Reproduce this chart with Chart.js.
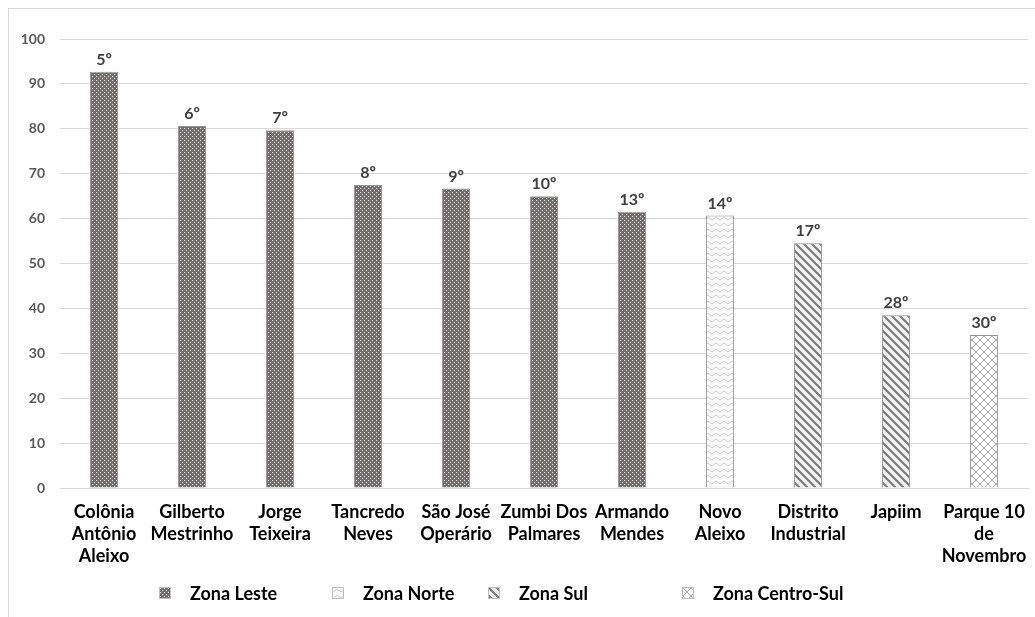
<!DOCTYPE html>
<html>
<head>
<meta charset="utf-8">
<script src="https://cdn.jsdelivr.net/npm/chart.js@4.4.1/dist/chart.umd.min.js"></script>
<style>
  body { margin: 0; background: #fff; }
  #wrap { position: relative; width: 1035px; height: 617px; overflow: hidden; }
  #frame { position: absolute; left: 8px; top: 8px; width: 1040px; height: 620px; border: 1px solid #d9d9d9; }
  #c { position: absolute; left: 0; top: 0; }
  #legenda { position: absolute; left: 0; top: 582px; width: 1035px; height: 22px;
             font: bold 18px Lato, 'Liberation Sans', sans-serif; color: #000; }
  .item { position: absolute; top: 0; display: flex; align-items: center; height: 22px; white-space: nowrap; }
  .item canvas { border: 1px solid #bfbfbf; margin-right: 19px; }
</style>
</head>
<body>
<div id="wrap">
  <div id="frame"></div>
  <canvas id="c" width="1035" height="617"></canvas>
  <div id="legenda"></div>
</div>
<script>
const bairros = [
  ["Colônia", "Antônio", "Aleixo"],
  ["Gilberto", "Mestrinho"],
  ["Jorge", "Teixeira"],
  ["Tancredo", "Neves"],
  ["São José", "Operário"],
  ["Zumbi Dos", "Palmares"],
  ["Armando", "Mendes"],
  ["Novo", "Aleixo"],
  ["Distrito", "Industrial"],
  ["Japiim"],
  ["Parque 10", "de", "Novembro"]
];
const valores = [92.7, 80.6, 79.7, 67.5, 66.7, 65.0, 61.5, 60.7, 54.5, 38.5, 34.1];
const posicoes = ["5º", "6º", "7º", "8º", "9º", "10º", "13º", "14º", "17º", "28º", "30º"];
const zonaDoBairro = ["Leste", "Leste", "Leste", "Leste", "Leste", "Leste", "Leste", "Norte", "Sul", "Sul", "Centro-Sul"];
const zonas = ["Leste", "Norte", "Sul", "Centro-Sul"];

// small pattern tiles, one per zone
function makePattern(zona, ctxAlvo) {
  const t = document.createElement("canvas");
  const ctx = t.getContext("2d");
  if (zona === "Leste") {
    t.width = 4; t.height = 4;
    ctx.fillStyle = "#757070";
    ctx.fillRect(0, 0, 4, 4);
    ctx.fillStyle = "#e6e6e6";
    ctx.fillRect(0, 0, 1, 1);
    ctx.fillRect(2, 2, 1, 1);
  } else if (zona === "Norte") {
    t.width = 8; t.height = 6;
    ctx.fillStyle = "#fafafa";
    ctx.fillRect(0, 0, 8, 6);
    ctx.strokeStyle = "#cfcfcf";
    ctx.lineWidth = 1;
    ctx.beginPath();
    ctx.moveTo(0, 4); ctx.lineTo(4, 1); ctx.lineTo(8, 4);
    ctx.stroke();
  } else if (zona === "Sul") {
    t.width = 8; t.height = 8;
    ctx.fillStyle = "#f2f2f2";
    ctx.fillRect(0, 0, 8, 8);
    ctx.strokeStyle = "#7a7a7a";
    ctx.lineWidth = 2.2;
    ctx.beginPath();
    ctx.moveTo(-2, -2); ctx.lineTo(10, 10);
    ctx.moveTo(-2, 6); ctx.lineTo(2, 10);
    ctx.moveTo(6, -2); ctx.lineTo(10, 2);
    ctx.stroke();
  } else {
    t.width = 8; t.height = 8;
    ctx.fillStyle = "#ffffff";
    ctx.fillRect(0, 0, 8, 8);
    ctx.strokeStyle = "#a6a6a6";
    ctx.lineWidth = 1;
    ctx.beginPath();
    ctx.moveTo(0, 0); ctx.lineTo(8, 8);
    ctx.moveTo(8, 0); ctx.lineTo(0, 8);
    ctx.stroke();
  }
  return ctxAlvo.createPattern(t, "repeat");
}
const mainCtx = document.getElementById("c").getContext("2d");
const padroes = {};
zonas.forEach(z => padroes[z] = makePattern(z, mainCtx));

// legend (html, so the spacing can follow the original)
const legendaX = [159, 332, 488, 682];
const legenda = document.getElementById("legenda");
zonas.forEach((z, i) => {
  const item = document.createElement("div");
  item.className = "item";
  item.style.left = legendaX[i] + "px";
  const sw = document.createElement("canvas");
  sw.width = 10; sw.height = 10;
  const sctx = sw.getContext("2d");
  sctx.fillStyle = makePattern(z, sctx);
  sctx.fillRect(0, 0, 10, 10);
  item.appendChild(sw);
  item.appendChild(document.createTextNode("Zona " + z));
  legenda.appendChild(item);
});

// ranking labels above each bar
const rotulos = {
  id: "rotulos",
  afterDatasetsDraw(chart) {
    const ctx = chart.ctx;
    const meta = chart.getDatasetMeta(0);
    ctx.save();
    ctx.font = "bold 16px Lato, 'Liberation Sans', sans-serif";
    ctx.fillStyle = "#404040";
    ctx.textAlign = "center";
    ctx.textBaseline = "bottom";
    meta.data.forEach((bar, i) => {
      ctx.fillText(posicoes[i], bar.x, bar.y - 4);
    });
    ctx.restore();
  }
};

new Chart(document.getElementById("c"), {
  type: "bar",
  data: {
    labels: bairros,
    datasets: [{
      data: valores,
      backgroundColor: zonaDoBairro.map(z => padroes[z]),
      borderColor: "#949494",
      borderWidth: 1,
      categoryPercentage: 1,
      barPercentage: 0.32
    }]
  },
  options: {
    responsive: false,
    animation: false,
    layout: { padding: { left: 0, right: 7, top: 39, bottom: 39 } },
    scales: {
      x: {
        grid: { display: false },
        border: { color: "#d9d9d9" },
        ticks: {
          color: "#000",
          padding: 5,
          maxRotation: 0,
          autoSkip: false,
          font: { family: "Lato, 'Liberation Sans', sans-serif", size: 18, weight: "bold", lineHeight: 1.22 }
        },
        afterFit(scale) {
          scale.height = 90;
          scale.paddingLeft = 0;
          scale.paddingRight = 0;
        }
      },
      y: {
        min: 0,
        max: 100,
        grid: { color: "#d9d9d9", drawTicks: false },
        border: { display: false },
        ticks: {
          stepSize: 10,
          color: "#595959",
          padding: 15,
          font: { family: "Lato, 'Liberation Sans', sans-serif", size: 14, weight: "bold" }
        },
        afterFit(scale) { scale.width = 60; }
      }
    },
    plugins: {
      tooltip: { enabled: false },
      legend: { display: false }
    }
  },
  plugins: [rotulos]
});
</script>
</body>
</html>
